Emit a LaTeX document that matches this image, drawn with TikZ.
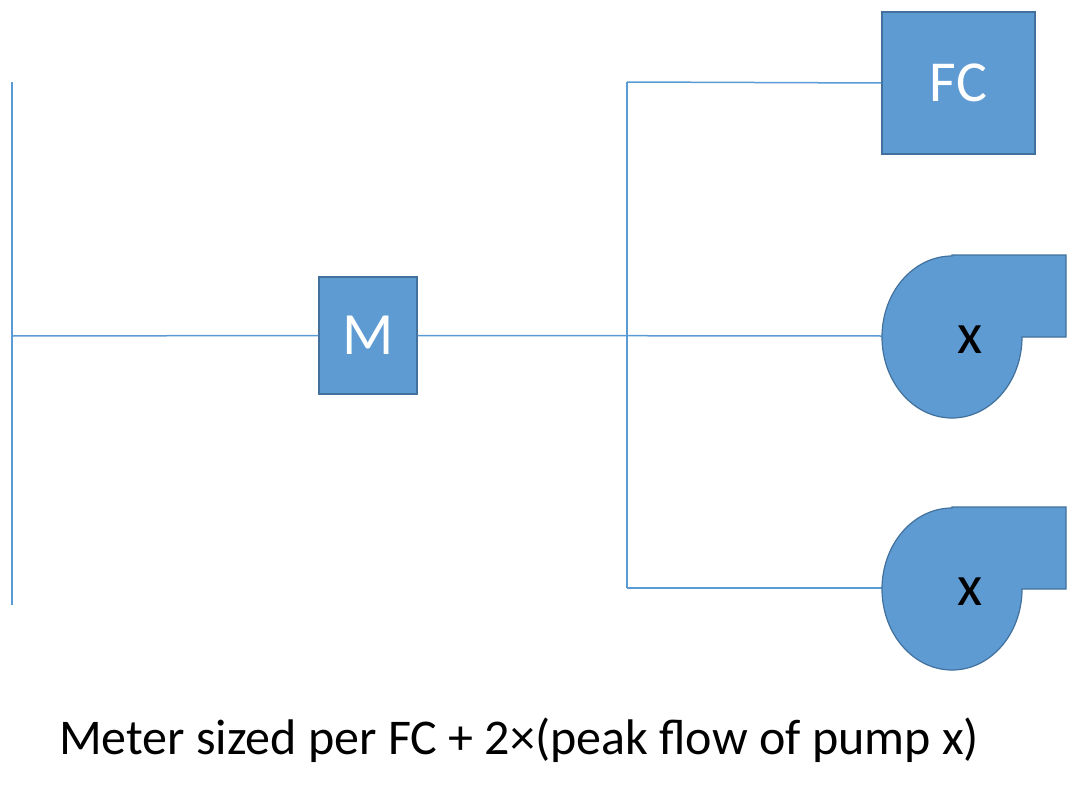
\documentclass[tikz,border=0pt]{standalone}
\usepackage{fontspec}
\setmainfont{Carlito}
\definecolor{fillb}{HTML}{5F9BD3}
\definecolor{edgeb}{HTML}{41719C}
\definecolor{lineb}{HTML}{5B9BD5}
\begin{document}
\begin{tikzpicture}[x=1pt,y=-1pt,
  box/.style={draw=edgeb,fill=fillb,line width=1.2pt,text=white,inner sep=0pt},
  pipe/.style={draw=lineb,line width=1.5pt},
  pumpshape/.style={draw=edgeb,fill=fillb,line width=1.2pt}]
\useasboundingbox (0,0) rectangle (1084,789);
\coordinate (la) at (12,82);
\coordinate (lb) at (12,605);
\coordinate (lm) at (12,336);
\coordinate (ba) at (627,82);
\coordinate (bm) at (627,336);
\coordinate (bb) at (627,588);
\draw[pipe] (la) -- (lb);
\node[box,minimum width=98pt,minimum height=117pt,font=\fontsize{60}{60}\selectfont] (M) at (368,335.5) {M};
\node[box,minimum width=153pt,minimum height=142pt,font=\fontsize{58}{58}\selectfont] (FC) at (958.5,83) {FC};
\coordinate (p1) at (882,336);
\coordinate (p2) at (882,588);
\draw[pipe] (lm) -- (M.west);
\draw[pipe] (M.east) -- (p1);
\draw[pipe] (ba) -- (bb);
\draw[pipe] (ba) -- (FC.west);
\draw[pipe] (bb) -- (p2);
\foreach \n/\dy in {pa/0,pb/252}{
  \begin{scope}[yshift=-\dy pt]
  \draw[pumpshape] (952,255) -- (1066,255) -- (1066,337) -- (1022,337)
     arc[start angle=0,end angle=270,x radius=70,y radius=81] -- cycle;
  \node[font=\fontsize{58}{58}\selectfont] (\n) at (970,340) {x};
  \end{scope}
}
\node[font=\fontsize{50}{50}\selectfont] (cap) at (519,740) {Meter sized per FC + 2×(peak flow of pump x)};
\end{tikzpicture}
\end{document}
